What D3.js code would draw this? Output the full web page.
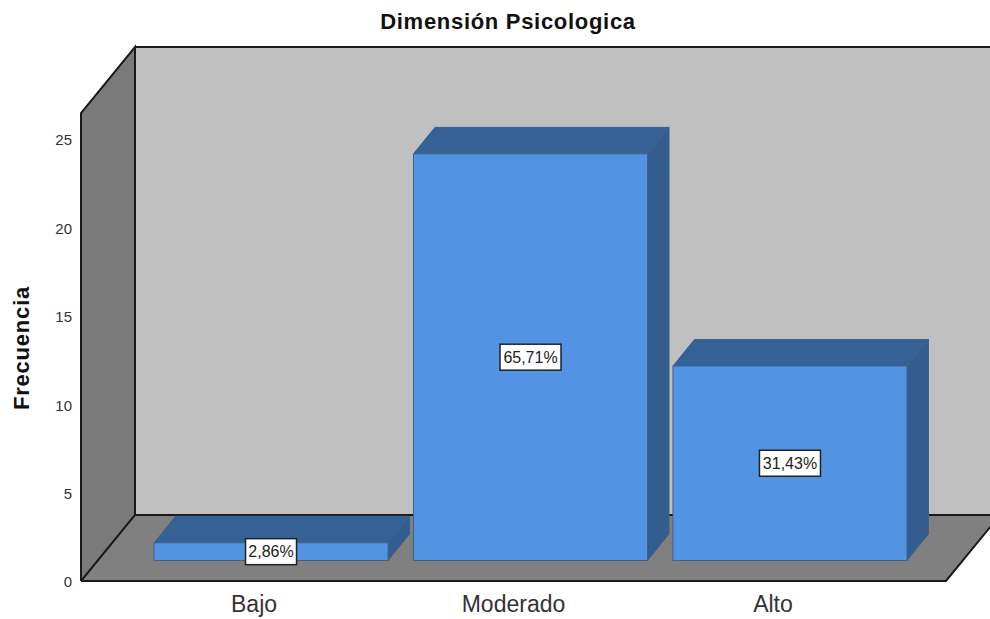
<!DOCTYPE html>
<html>
<head>
<meta charset="utf-8">
<script src="https://cdn.jsdelivr.net/npm/d3@7/dist/d3.min.js"></script>
<style>
  html, body { margin: 0; padding: 0; background: #fff; overflow: hidden; }
  svg { display: block; font-family: "Liberation Sans", Arial, sans-serif; }
</style>
</head>
<body>
<svg id="chart" width="990" height="619"></svg>
<script>
// Frequency counts per level
const categories = ["Bajo", "Moderado", "Alto"];
const frequencies = [1, 23, 11];
const percentLabels = ["2,86%", "65,71%", "31,43%"];
const yTicks = [0, 5, 10, 15, 20, 25];
const chartTitle = "Dimensión Psicologica";
const yTitle = "Frecuencia";

const svg = d3.select("#chart");
const colors = { wall: "#c0c0c0", side: "#7a7a7a", floor: "#808080", bar: "#5294e3", barTop: "#366196", barSide: "#335d8f", barEdge: "#3f628c" };

// Scales of the front plane
const y = d3.scaleLinear().domain([0, 25]).range([581, 139]);
const x = d3.scaleBand().domain(categories).range([154, 907]).paddingInner(0.098).paddingOuter(0);

// Oblique projection: box frame depth and bar depth
const frame = { left: 81, right: 946, dx: 54, dy: -66, top: 26.47 };
const barDepth = { dx: 21.5, dy: -26.5 };
const barLift = 20.5;

const poly = pts => pts.map(p => p.join(",")).join(" ");
const y0 = y(0), yTop = y(frame.top);
const bx = frame.left + frame.dx, by = y0 + frame.dy, byTop = yTop + frame.dy;

// Back wall, side wall and floor
svg.append("polygon").attr("points", poly([[bx, byTop], [frame.right + frame.dx + 10, byTop], [frame.right + frame.dx + 10, by], [bx, by]]))
  .attr("fill", colors.wall);
svg.append("polygon").attr("points", poly([[frame.left, yTop], [bx, byTop], [bx, by], [frame.left, y0]]))
  .attr("fill", colors.side);
svg.append("polygon").attr("points", poly([[frame.left, y0], [bx, by], [frame.right + frame.dx, by], [frame.right, y0]]))
  .attr("fill", colors.floor);

// Frame edges
const edge = (pts) => svg.append("polyline").attr("points", poly(pts))
  .attr("fill", "none").attr("stroke", "#1a1a1a").attr("stroke-width", 2);
edge([[frame.left, y0], [frame.left, yTop], [bx, byTop], [bx, by], [frame.left, y0]]);
edge([[bx, byTop], [1000, byTop]]);
edge([[bx, by], [1000, by]]);
edge([[frame.left, y0], [frame.right, y0], [frame.right + frame.dx, by]]);

// Bars: front, top and side faces
const rows = categories.map((c, i) => ({ c, v: frequencies[i], label: percentLabels[i] }));
const bars = svg.append("g").selectAll("g").data(rows).join("g");
const barY = v => y(v) - barLift;
const w = x.bandwidth();

bars.append("polygon").attr("points", d => {
  const l = x(d.c), t = barY(d.v);
  return poly([[l, t], [l + barDepth.dx, t + barDepth.dy], [l + w + barDepth.dx, t + barDepth.dy], [l + w, t]]);
}).attr("fill", colors.barTop).attr("stroke", colors.barEdge).attr("stroke-width", 1);

bars.append("polygon").attr("points", d => {
  const r = x(d.c) + w, t = barY(d.v), b = barY(0);
  return poly([[r, t], [r + barDepth.dx, t + barDepth.dy], [r + barDepth.dx, b + barDepth.dy], [r, b]]);
}).attr("fill", colors.barSide).attr("stroke", colors.barEdge).attr("stroke-width", 1);

bars.append("rect")
  .attr("x", d => x(d.c)).attr("y", d => barY(d.v))
  .attr("width", w).attr("height", d => barY(0) - barY(d.v))
  .attr("fill", colors.bar).attr("stroke", colors.barEdge).attr("stroke-width", 1);

// Percentage boxes at the middle of each bar front
const boxes = svg.append("g").selectAll("g").data(rows).join("g")
  .attr("transform", d => `translate(${x(d.c) + w / 2},${(barY(d.v) + barY(0)) / 2})`);
boxes.append("rect")
  .attr("x", d => d.label.length > 5 ? -30.5 : -25.5)
  .attr("width", d => d.label.length > 5 ? 61 : 51)
  .attr("y", -13).attr("height", 26)
  .attr("fill", "#fff").attr("stroke", "#222").attr("stroke-width", 1.5);
boxes.append("text")
  .attr("text-anchor", "middle").attr("y", 5.5)
  .attr("font-size", 16).attr("fill", "#222")
  .text(d => d.label);

// Value axis
const yAxis = d3.axisLeft(y).tickValues(yTicks).tickSize(0).tickPadding(9).tickFormat(d3.format("d"));
const yg = svg.append("g").attr("transform", `translate(${frame.left},1)`).call(yAxis);
yg.select(".domain").remove();
yg.selectAll("text").attr("font-size", 15).attr("font-family", "Liberation Sans").attr("fill", "#333");

// Category axis labels sit under the front floor edge, slightly left of the bar fronts
svg.append("g").selectAll("text").data(categories).join("text")
  .attr("x", d => x(d) + w / 2 - 17).attr("y", 612)
  .attr("text-anchor", "middle").attr("font-size", 23).attr("fill", "#333")
  .text(d => d);

// Titles
svg.append("text").attr("x", 508).attr("y", 29).attr("text-anchor", "middle")
  .attr("font-size", 22).attr("letter-spacing", 0.7).attr("font-weight", "bold").attr("fill", "#111").text(chartTitle);
svg.append("text").attr("transform", "translate(29,348) rotate(-90)").attr("text-anchor", "middle")
  .attr("font-size", 22).attr("letter-spacing", 0.8).attr("font-weight", "bold").attr("fill", "#111").text(yTitle);
</script>
</body>
</html>
